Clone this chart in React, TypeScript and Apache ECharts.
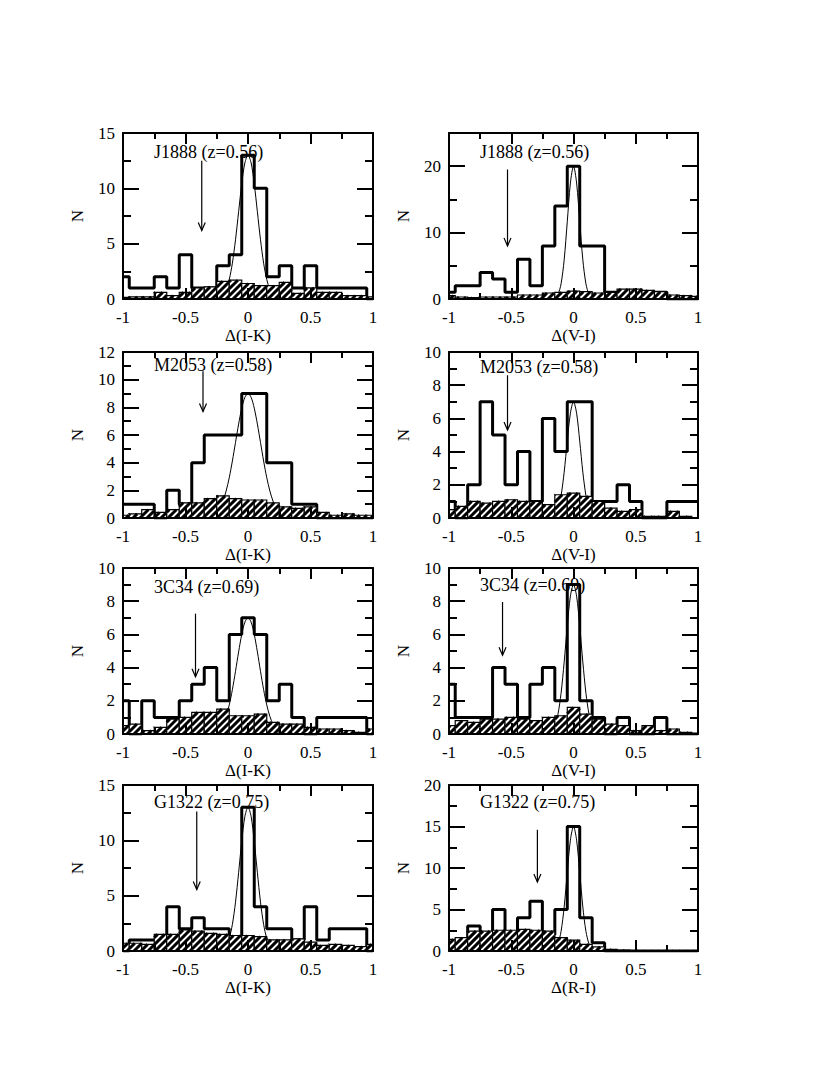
import React, { useEffect, useRef } from "react";
import * as echarts from "echarts";

// ---------- data ----------
const binCenters = [-1, -0.9, -0.8, -0.7, -0.6, -0.5, -0.4, -0.3, -0.2, -0.1, 0, 0.1, 0.2, 0.3, 0.4, 0.5, 0.6, 0.7, 0.8, 0.9, 1];

const panelLabels = ["J1888 (z=0.56)", "J1888 (z=0.56)", "M2053 (z=0.58)", "M2053 (z=0.58)", "3C34 (z=0.69)", "3C34 (z=0.69)", "G1322 (z=0.75)", "G1322 (z=0.75)"];
const xNames = ["Δ(I-K)", "Δ(V-I)", "Δ(I-K)", "Δ(V-I)", "Δ(I-K)", "Δ(V-I)", "Δ(I-K)", "Δ(R-I)"];
const yMax = [15, 25, 12, 10, 10, 10, 15, 20];
const yStep = [5, 10, 2, 2, 2, 2, 5, 5];
const xTickStep = 0.5;

// thick histograms (cluster field counts)
const thick1 = [2, 1, 1, 2, 1, 4, 1, 1, 3, 4, 13, 10, 2, 3, 1, 3, 1, 1, 1, 1, 0];
const thick2 = [1, 2, 2, 4, 3, 1, 6, 2, 8, 14, 20, 8, 8, 1, 1, 1, 1, 1, 0, 0, 0];
const thick3 = [1, 1, 1, 0, 2, 1, 4, 6, 6, 6, 9, 9, 4, 4, 1, 1, 0, 0, 0, 0, 0];
const thick4 = [1, 0, 2, 7, 5, 2, 4, 1, 6, 4, 7, 7, 1, 1, 2, 1, 0, 0, 1, 1, 1];
const thick5 = [2, 0, 2, 1, 1, 2, 3, 4, 2, 6, 7, 6, 2, 3, 1, 0, 1, 1, 1, 1, 0];
const thick6 = [3, 1, 1, 1, 4, 3, 1, 3, 4, 2, 9, 2, 1, 0, 1, 0, 0, 1, 0, 0, 0];
const thick7 = [0, 1, 1, 1, 4, 2, 3, 2, 2, 1, 13, 4, 2, 2, 1, 4, 1, 2, 2, 2, 0];
const thick8 = [1, 1, 3, 2, 5, 2, 4, 6, 2, 5, 15, 4, 1, 0, 0, 0, 0, 0, 0, 0, 0];

// hatched histograms (background)
const hatch1 = [0.15, 0.2, 0.2, 0.6, 0.3, 0.6, 1.0, 1.1, 1.6, 1.7, 1.4, 1.2, 1.2, 1.5, 0.5, 1.0, 0.6, 0.6, 0.3, 0.3, 0.2];
const hatch2 = [0.5, 0.3, 0.2, 0.3, 0.3, 0.3, 0.6, 0.6, 0.9, 1.0, 1.2, 1.1, 0.9, 1.0, 1.5, 1.5, 1.3, 1.1, 0.6, 0.5, 0.4];
const hatch3 = [0.2, 0.3, 0.6, 0.4, 0.6, 1.1, 1.1, 1.4, 1.6, 1.4, 1.3, 1.3, 1.1, 0.8, 0.7, 0.8, 0.4, 0.2, 0.3, 0.2, 0.2];
const hatch4 = [0.5, 0.7, 1.0, 0.9, 1.0, 1.1, 1.0, 1.0, 0.8, 1.4, 1.5, 1.3, 1.0, 0.6, 0.4, 0.5, 0.1, 0.1, 0.4, 0.1, 0.0];
const hatch5 = [0.5, 0.6, 0.2, 0.4, 0.9, 1.0, 1.3, 1.3, 1.5, 1.1, 1.1, 1.2, 0.7, 0.6, 0.6, 0.4, 0.3, 0.3, 0.2, 0.1, 0.3];
const hatch6 = [0.5, 0.8, 0.7, 0.9, 0.9, 1.0, 0.9, 0.8, 1.0, 1.1, 1.6, 1.2, 0.9, 0.6, 0.5, 0.2, 0.5, 0.2, 0.3, 0.1, 0.0];
const hatch7 = [0.7, 0.7, 0.6, 1.5, 1.5, 1.9, 1.8, 1.6, 1.5, 1.4, 1.4, 1.3, 1.0, 1.0, 1.1, 0.8, 0.5, 0.6, 0.5, 0.4, 0.6];
const hatch8 = [1.4, 1.6, 2.4, 2.4, 2.5, 2.5, 2.6, 2.5, 2.4, 1.6, 1.3, 0.8, 0.5, 0.2, 0.1, 0.05, 0.05, 0.05, 0.05, 0.05, 0.05];

// fitted curves, read at these x positions
const gaussX = [-0.25, -0.225, -0.2, -0.175, -0.15, -0.125, -0.1, -0.075, -0.05, -0.025, 0, 0.025, 0.05, 0.075, 0.1, 0.125, 0.15, 0.175, 0.2, 0.225, 0.25];
const curve1 = [0.05, 0.14, 0.37, 0.85, 1.76, 3.24, 5.35, 7.88, 10.41, 12.3, 13, 12.3, 10.41, 7.88, 5.35, 3.24, 1.76, 0.85, 0.37, 0.14, 0.05];
const curve2 = [0, 0, 0, 0.03, 0.15, 0.67, 2.28, 5.9, 11.63, 17.46, 20, 17.46, 11.63, 5.9, 2.28, 0.67, 0.15, 0.03, 0, 0, 0];
const curve3 = [0.4, 0.72, 1.22, 1.95, 2.92, 4.12, 5.46, 6.79, 7.94, 8.72, 9, 8.72, 7.94, 6.79, 5.46, 4.12, 2.92, 1.95, 1.22, 0.72, 0.4];
const curve4 = [0, 0, 0.01, 0.04, 0.17, 0.53, 1.34, 2.76, 4.63, 6.31, 7, 6.31, 4.63, 2.76, 1.34, 0.53, 0.17, 0.04, 0.01, 0, 0];
const curve5 = [0.15, 0.31, 0.59, 1.06, 1.75, 2.67, 3.78, 4.95, 6.0, 6.74, 7, 6.74, 6.0, 4.95, 3.78, 2.67, 1.75, 1.06, 0.59, 0.31, 0.15];
const curve6 = [0, 0.01, 0.05, 0.17, 0.48, 1.18, 2.45, 4.33, 6.5, 8.3, 9, 8.3, 6.5, 4.33, 2.45, 1.18, 0.48, 0.17, 0.05, 0.01, 0];
const curve7 = [0.01, 0.05, 0.17, 0.47, 1.14, 2.4, 4.41, 7.08, 9.92, 12.15, 13, 12.15, 9.92, 7.08, 4.41, 2.4, 1.14, 0.47, 0.17, 0.05, 0.01];
const curve8 = [0, 0, 0.01, 0.05, 0.23, 0.83, 2.36, 5.3, 9.45, 13.36, 15, 13.36, 9.45, 5.3, 2.36, 0.83, 0.23, 0.05, 0.01, 0, 0];

// arrows: x position, top value, tip value
const arrowX = [-0.37, -0.53, -0.36, -0.53, -0.42, -0.57, -0.41, -0.29];
const arrowTop = [12.5, 19.5, 10.6, 8.6, 7.25, 7.95, 12.6, 14.6];
const arrowTip = [6.2, 8.0, 7.7, 5.3, 3.45, 4.75, 5.55, 8.3];

const thickAll = [thick1, thick2, thick3, thick4, thick5, thick6, thick7, thick8];
const hatchAll = [hatch1, hatch2, hatch3, hatch4, hatch5, hatch6, hatch7, hatch8];
const curveAll = [curve1, curve2, curve3, curve4, curve5, curve6, curve7, curve8];

// ---------- layout ----------
const gridLefts = [123, 449];
const gridWidths = [250, 249];
const gridTops = [133, 352, 568, 785];
const gridHeight = 166;
const labelDy = [19, 19, 13, 15, 19, 17, 17, 17];
const FONT = '"Liberation Serif", "Times New Roman", serif';
const FS = 17;
const FS_LABEL = 18;
const BIN_HALF = 0.05;

function buildOption() {
  const grid: any[] = [];
  const xAxis: any[] = [];
  const yAxis: any[] = [];
  const series: any[] = [];
  const graphic: any[] = [];
  const lineStyle = { color: "#000", width: 2 };
  const labelStyle = { color: "#000", fontFamily: FONT, fontSize: FS };

  for (let i = 0; i < 8; i++) {
    const row = Math.floor(i / 2);
    const col = i % 2;
    grid.push({ left: gridLefts[col], top: gridTops[row], width: gridWidths[col], height: gridHeight, containLabel: false });

    const xBase = {
      type: "value", gridIndex: i, min: -1, max: 1, interval: xTickStep,
      axisLine: { show: true, onZero: false, lineStyle },
      axisTick: { show: true, inside: true, length: 11, lineStyle },
      minorTick: { show: true, splitNumber: 2, length: 6, lineStyle },
      splitLine: { show: false }, minorSplitLine: { show: false }, z: 5,
    };
    xAxis.push({
      ...xBase, position: "bottom",
      axisLabel: { ...labelStyle, margin: 10 },
      name: xNames[i], nameLocation: "middle", nameGap: 24, nameTextStyle: labelStyle,
    });
    xAxis.push({ ...xBase, position: "top", axisLabel: { show: false } });

    const step = yStep[i];
    const yBase = { type: "value", gridIndex: i, min: 0, max: yMax[i], splitLine: { show: false }, z: 5 };
    yAxis.push({
      ...yBase, position: "left", interval: step,
      axisLine: { show: true, onZero: false, lineStyle },
      axisTick: { show: true, inside: true, length: 16, lineStyle },
      axisLabel: { ...labelStyle, margin: 8, formatter: (v: number) => (v % step === 0 ? String(v) : "") },
      name: "N", nameLocation: "middle", nameGap: 37, nameRotate: 90, nameTextStyle: labelStyle,
    });
    yAxis.push({
      ...yBase, position: "left", interval: step / 2,
      axisLine: { show: false, onZero: false }, axisLabel: { show: false },
      axisTick: { show: true, inside: true, length: 8, lineStyle },
    });
    yAxis.push({
      ...yBase, position: "right", interval: step,
      axisLine: { show: true, onZero: false, lineStyle }, axisLabel: { show: false },
      axisTick: { show: true, inside: true, length: 16, lineStyle },
    });
    yAxis.push({
      ...yBase, position: "right", interval: step / 2,
      axisLine: { show: false, onZero: false }, axisLabel: { show: false },
      axisTick: { show: true, inside: true, length: 8, lineStyle },
    });

    const xi = 2 * i;
    const yi = 4 * i;

    series.push({
      type: "line", xAxisIndex: xi, yAxisIndex: yi, step: "middle", symbol: "none", z: 2,
      lineStyle: { color: "#000", width: 3 }, silent: true,
      data: binCenters.map((c, k) => [c, thickAll[i][k]]),
    });
    series.push({
      type: "line", xAxisIndex: xi, yAxisIndex: yi, symbol: "none", smooth: 0.3, z: 2,
      lineStyle: { color: "#000", width: 1 }, silent: true,
      data: gaussX.map((x, k) => [x, curveAll[i][k]]),
    });
    series.push({
      type: "custom", xAxisIndex: xi, yAxisIndex: yi, z: 3, silent: true,
      data: binCenters.map((c, k) => [c, hatchAll[i][k]]),
      renderItem: (params: any, api: any) => {
        const xc = api.value(0);
        const v = api.value(1);
        const pTop = api.coord([xc - BIN_HALF, v]);
        const pBot = api.coord([xc + BIN_HALF, 0]);
        const cs = params.coordSys;
        const x0 = Math.max(pTop[0], cs.x);
        const x1 = Math.min(pBot[0], cs.x + cs.width);
        const yT = pTop[1];
        const yB = pBot[1];
        const children: any[] = [
          { type: "rect", shape: { x: x0, y: yT, width: x1 - x0, height: yB - yT }, style: { fill: "#fff", stroke: "none" } },
        ];
        const hs = 7;
        const cStart = Math.ceil((x0 + yT) / hs) * hs;
        for (let c = cStart; c < x1 + yB; c += hs) {
          const xa = Math.max(x0, c - yB);
          const xb = Math.min(x1, c - yT);
          if (xb > xa) {
            children.push({ type: "line", shape: { x1: xa, y1: c - xa, x2: xb, y2: c - xb }, style: { stroke: "#000", lineWidth: 3 } });
          }
        }
        children.push({ type: "rect", shape: { x: x0, y: yT, width: x1 - x0, height: yB - yT }, style: { fill: "none", stroke: "#000", lineWidth: 1.2 } });
        return { type: "group", children };
      },
    });
    series.push({
      type: "custom", xAxisIndex: xi, yAxisIndex: yi, z: 4, silent: true,
      data: [[arrowX[i], arrowTop[i], arrowTip[i]]],
      renderItem: (params: any, api: any) => {
        const top = api.coord([api.value(0), api.value(1)]);
        const tip = api.coord([api.value(0), api.value(2)]);
        return {
          type: "group",
          children: [
            { type: "line", shape: { x1: top[0], y1: top[1], x2: tip[0], y2: tip[1] }, style: { stroke: "#000", lineWidth: 1.2 } },
            {
              type: "polyline",
              shape: { points: [[tip[0] - 3.5, tip[1] - 8], [tip[0], tip[1]], [tip[0] + 3.5, tip[1] - 8]] },
              style: { stroke: "#000", lineWidth: 1.2, fill: "none" },
            },
          ],
        };
      },
    });

    graphic.push({
      type: "text", z: 10,
      x: gridLefts[col] + 31, y: gridTops[row] + labelDy[i],
      style: { text: panelLabels[i], fill: "#000", fontFamily: FONT, fontSize: FS_LABEL, verticalAlign: "middle" },
    });
  }

  return { animation: false, backgroundColor: "#fff", grid, xAxis, yAxis, series, graphic };
}

export default function App() {
  const ref = useRef<HTMLDivElement>(null);
  useEffect(() => {
    if (!ref.current) return;
    const chart = echarts.init(ref.current, undefined, { renderer: "svg" });
    chart.setOption(buildOption() as any);
    return () => chart.dispose();
  }, []);
  return <div ref={ref} style={{ position: "absolute", left: 0, top: 0, width: 830, height: 1075 }} />;
}
